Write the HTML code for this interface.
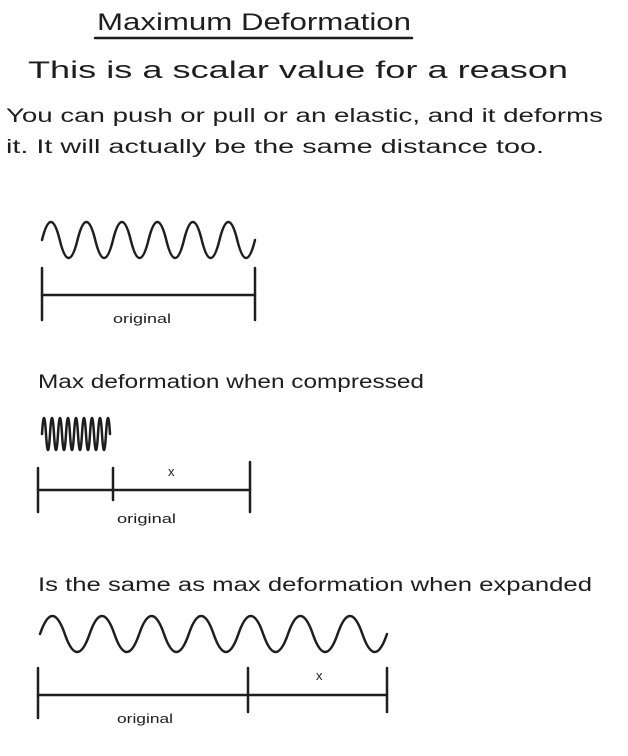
<!DOCTYPE html>
<html><head><style>html,body{margin:0;padding:0;background:#fff}</style></head>
<body>
<svg width="628" height="751" viewBox="0 0 628 751" xmlns="http://www.w3.org/2000/svg" font-family="Liberation Sans, sans-serif" fill="#1e1e1e">
<g font-size="24">
<text x="97" y="30" textLength="314" lengthAdjust="spacingAndGlyphs">Maximum Deformation</text>
<text x="28" y="78" textLength="540" lengthAdjust="spacingAndGlyphs">This is a scalar value for a reason</text>
</g>
<g font-size="19">
<text x="6" y="122" textLength="597" lengthAdjust="spacingAndGlyphs">You can push or pull or an elastic, and it deforms</text>
<text x="6" y="153" textLength="538" lengthAdjust="spacingAndGlyphs">it. It will actually be the same distance too.</text>
<text x="38" y="388" textLength="386" lengthAdjust="spacingAndGlyphs">Max deformation when compressed</text>
<text x="38" y="591" textLength="554" lengthAdjust="spacingAndGlyphs">Is the same as max deformation when expanded</text>
</g>
<g font-size="13">
<text x="113" y="323" textLength="58" lengthAdjust="spacingAndGlyphs">original</text>
<text x="117" y="523" textLength="59" lengthAdjust="spacingAndGlyphs">original</text>
<text x="117" y="723" textLength="56" lengthAdjust="spacingAndGlyphs">original</text>
<text x="168" y="476">x</text>
<text x="316" y="680">x</text>
</g>
<g stroke="#1e1e1e" stroke-width="2.5" fill="none" stroke-linecap="round" stroke-linejoin="round">
<line x1="95" y1="38" x2="412" y2="38"/>
<path d="M42 240 Q50.9 204 59.75 240 T77.5 240 T95.25 240 T113 240 T130.75 240 T148.5 240 T166.25 240 T184 240 T201.75 240 T219.5 240 T237.25 240 T255 240"/>
<line x1="42" y1="295" x2="255" y2="295"/><line x1="42" y1="268" x2="42" y2="320"/><line x1="255" y1="268" x2="255" y2="320"/>
<path d="M42 434 Q44 402 46 434 T50 434 T54 434 T58 434 T62 434 T66 434 T70 434 T74 434 T78 434 T82 434 T86 434 T90 434 T94 434 T98 434 T102 434 T106 434 T110 434"/>
<line x1="38" y1="490" x2="250" y2="490"/><line x1="38" y1="468" x2="38" y2="512"/><line x1="113" y1="468" x2="113" y2="500"/><line x1="250" y1="462" x2="250" y2="512"/>
<path d="M40 634 Q52.4 598 64.8 634 T89.6 634 T114.4 634 T139.2 634 T164 634 T188.8 634 T213.6 634 T238.4 634 T263.2 634 T288 634 T312.8 634 T337.6 634 T362.4 634 T387 634"/>
<line x1="38" y1="695" x2="387" y2="695"/><line x1="38" y1="668" x2="38" y2="718"/><line x1="248" y1="668" x2="248" y2="712"/><line x1="387" y1="668" x2="387" y2="712"/>
</g>
</svg>
</body></html>
